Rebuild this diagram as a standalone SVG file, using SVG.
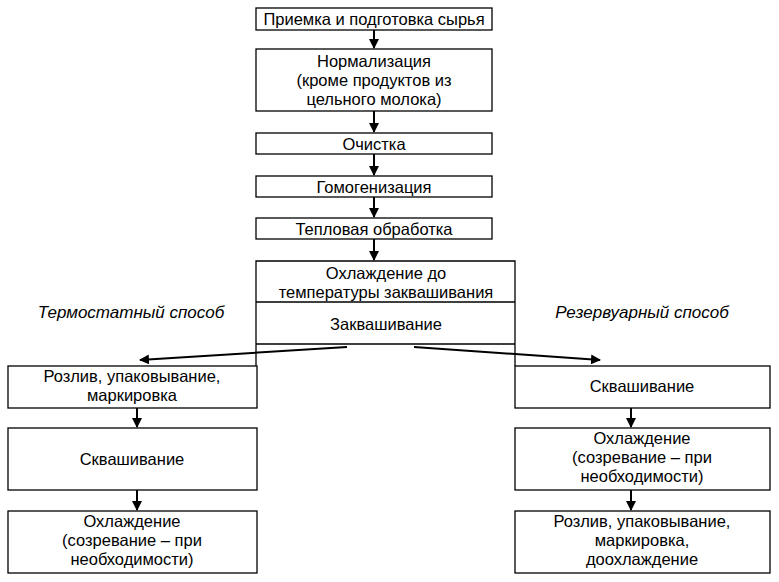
<svg xmlns="http://www.w3.org/2000/svg" width="779" height="582" viewBox="0 0 779 582">
<defs>
<style>
rect,.b{fill:#fff;stroke:#000;stroke-width:1.3}
text{font-family:"Liberation Sans",Arial,sans-serif;font-size:16.5px;text-anchor:middle;fill:#000}
.i{font-style:italic;font-size:17px}
.c line{stroke:#000;stroke-width:2}
</style>
<marker id="a" markerWidth="10" markerHeight="10" refX="9" refY="5" orient="auto" markerUnits="userSpaceOnUse"><path d="M0,0L10,5L0,10z" fill="#000"/></marker>
</defs>
<rect width="779" height="582" style="stroke:none"/>
<g id="n1"><rect x="256" y="8" width="236" height="22"/><text x="374" y="25">Приемка и подготовка сырья</text></g>
<g id="n2"><rect x="256" y="49" width="236" height="62"/><text x="374" y="67">Нормализация</text><text x="374" y="86">(кроме продуктов из</text><text x="374" y="105">цельного молока)</text></g>
<g id="n3"><rect x="256" y="133" width="236" height="21"/><text x="374" y="150">Очистка</text></g>
<g id="n4"><rect x="256" y="176" width="236" height="21"/><text x="374" y="193">Гомогенизация</text></g>
<g id="n5"><rect x="256" y="218" width="236" height="21"/><text x="374" y="235">Тепловая обработка</text></g>
<g id="n6"><path class="b" d="M256,366V261H515V366M256,302H515M256,344H515"/><text x="386" y="279">Охлаждение до</text><text x="386" y="298">температуры заквашивания</text><text x="386" y="330">Заквашивание</text></g>
<g id="lbl"><text class="i" x="131" y="318">Термостатный способ</text><text class="i" x="642" y="318">Резервуарный способ</text></g>
<g id="l1"><rect x="8" y="366" width="249" height="42"/><text x="132" y="382">Розлив, упаковывание,</text><text x="132" y="401">маркировка</text></g>
<g id="l2"><rect x="8" y="428" width="249" height="62"/><text x="132" y="465">Сквашивание</text></g>
<g id="l3"><rect x="8" y="511" width="249" height="62"/><text x="132" y="527">Охлаждение</text><text x="132" y="546">(созревание – при</text><text x="132" y="565">необходимости)</text></g>
<g id="r1"><rect x="515" y="366" width="255" height="42"/><text x="642" y="392">Сквашивание</text></g>
<g id="r2"><rect x="515" y="428" width="255" height="62"/><text x="642" y="444">Охлаждение</text><text x="642" y="463">(созревание – при</text><text x="642" y="482">необходимости)</text></g>
<g id="r3"><rect x="515" y="511" width="255" height="62"/><text x="642" y="527">Розлив, упаковывание,</text><text x="642" y="546">маркировка,</text><text x="642" y="565">доохлаждение</text></g>
<g class="c" marker-end="url(#a)">
<line x1="374" y1="30" x2="374" y2="48"/>
<line x1="374" y1="111" x2="374" y2="132"/>
<line x1="374" y1="154" x2="374" y2="175"/>
<line x1="374" y1="197" x2="374" y2="217"/>
<line x1="374" y1="239" x2="374" y2="260"/>
<line x1="347" y1="347" x2="140" y2="360"/>
<line x1="414" y1="347" x2="600" y2="360"/>
<line x1="137" y1="408" x2="137" y2="427"/>
<line x1="137" y1="490" x2="137" y2="510"/>
<line x1="631" y1="408" x2="631" y2="427"/>
<line x1="631" y1="490" x2="631" y2="510"/>
</g>
</svg>
